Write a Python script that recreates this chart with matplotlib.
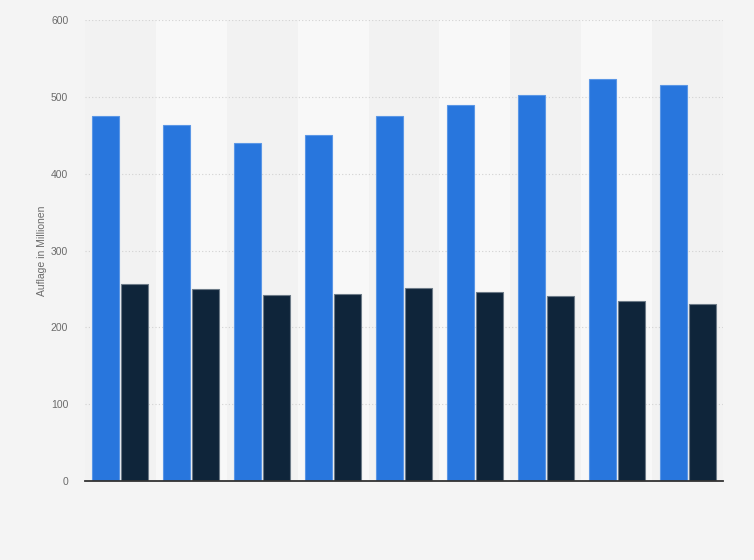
import matplotlib
matplotlib.use("Agg")
import matplotlib.pyplot as plt
import numpy as np

plt.rcParams["font.family"] = ["Liberation Sans", "DejaVu Sans"]

categories = ["1", "2", "3", "4", "5", "6", "7", "8", "9"]
series_a = [475, 464, 440, 451, 475, 490, 502, 523, 515]
series_b = [256, 250, 242, 243, 251, 246, 241, 235, 231]
y_ticks = [0, 100, 200, 300, 400, 500, 600]
y_label = "Auflage in Millionen"

fig = plt.figure(figsize=(7.54, 5.6), dpi=100, facecolor="#f4f4f4")
ax = fig.add_axes([0.1127, 0.141, 0.8463, 0.823])
ax.set_facecolor("#f2f2f2")

x = np.arange(len(categories))
for i in x:
    if i % 2 == 1:
        ax.axvspan(i - 0.5, i + 0.5, color="#f8f8f8", zorder=0, lw=0)

w = 0.38
off = 0.205
ax.bar(x - off, series_a, width=w, color="#2876dd", edgecolor="#5b97e6", linewidth=0.8, zorder=3)
ax.bar(x + off, series_b, width=w, color="#0f253a", edgecolor="#6d7b88", linewidth=0.8, zorder=3)

ax.set_xlim(-0.5, len(categories) - 0.5)
ax.set_ylim(0, 600)
ax.set_yticks(y_ticks)
ax.set_yticklabels([str(t) for t in y_ticks])
ax.set_xticks([])
ax.yaxis.grid(True, linestyle=(0, (1, 2)), color="#d2d2d2", linewidth=0.8, zorder=1)
ax.set_axisbelow(True)
for s in ["top", "right", "left"]:
    ax.spines[s].set_visible(False)
ax.spines["bottom"].set_color("#333333")
ax.spines["bottom"].set_linewidth(1.3)
ax.spines["bottom"].set_zorder(4)
ax.tick_params(axis="y", length=0, pad=12, labelsize=7.5, labelcolor="#6b6b6b")
ax.set_ylabel(y_label, fontsize=7.5, color="#6b6b6b", labelpad=3)

fig.savefig("out.png", dpi=100, facecolor=fig.get_facecolor())
